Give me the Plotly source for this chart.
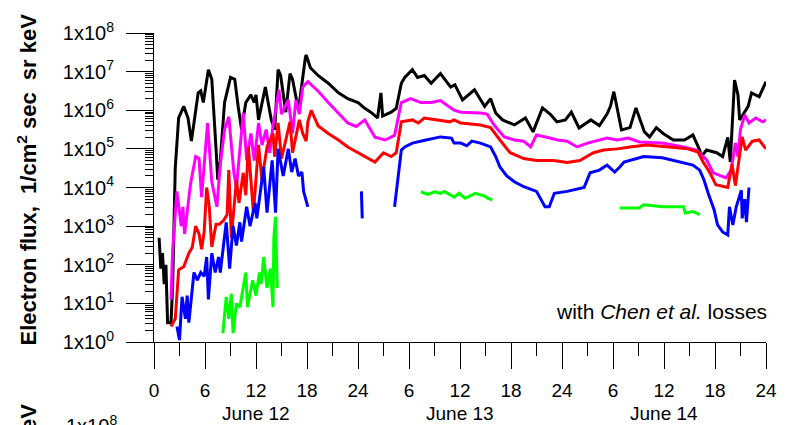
import plotly.graph_objects as go

# ---- data: time in hours from June 12 00:00 UT, flux as log10(1/cm^2 s sr keV) ----
black_t = [0.6, 0.8, 1.0, 1.2, 1.4, 1.6, 2.0, 2.2, 2.5, 2.9, 3.5, 4.0, 4.4, 5.2, 5.5, 5.8, 6.4, 6.8, 7.3, 7.5,
           7.8, 8.3, 9.0, 9.5, 9.9, 10.3, 10.8, 11.4, 11.8, 12.0, 12.3, 13.1, 13.8, 14.2, 14.6, 14.9, 15.5, 16.0,
           16.3, 17.0, 17.8, 17.9, 18.4, 19.3, 20.5, 21.7, 22.8, 24.0, 24.8, 25.5, 26.3, 26.7, 26.9, 27.9, 28.5,
           29.1, 29.5, 30.4, 31.0, 31.8, 32.6, 33.7, 34.9, 35.4, 36.3, 37.7, 38.9, 39.6, 40.2, 41.0, 42.4, 43.7,
           44.6, 45.7, 46.6, 47.4, 48.4, 49.1, 50.0, 51.4, 52.4, 53.3, 53.7, 54.1, 55.0, 56.0, 56.7, 57.7, 58.3,
           59.1, 59.9, 61.1, 62.4, 63.4, 64.2, 64.4, 65.0, 66.2, 66.9, 67.5, 67.8, 68.3, 68.7, 68.9, 69.2, 69.9,
           70.3, 71.2, 72.0]
black_log10 = [2.7, 1.9, 2.3, 1.5, 2.0, 0.5, 0.5, 1.5, 4.5, 5.8, 6.1, 5.8, 5.2, 6.45, 6.5, 6.2, 7.05, 6.8, 5.0, 4.2,
               4.7, 6.2, 6.85, 6.8, 6.1, 5.5, 6.2, 6.4, 6.2, 6.4, 5.75, 6.6, 5.75, 5.5, 7.05, 6.9, 5.95, 6.95,
               6.8, 6.0, 7.35, 7.43, 7.1, 6.9, 6.7, 6.45, 6.3, 6.2, 6.05, 5.95, 5.8, 6.45, 5.85, 5.95, 6.05,
               6.7, 6.85, 7.05, 6.85, 6.9, 6.7, 6.95, 6.6, 6.66, 6.27, 6.53, 6.1, 6.3, 5.93, 5.75, 5.62, 5.8,
               5.44, 6.06, 5.9, 5.7, 5.75, 5.95, 5.54, 5.75, 5.6, 5.9, 6.1, 6.48, 5.49, 5.55, 6.06, 5.44, 5.31,
               5.55, 5.4, 5.23, 5.23, 5.36, 4.97, 4.8, 4.97, 4.9, 4.8, 5.3, 4.66, 6.78, 6.4, 5.75, 5.85, 6.1,
               6.45, 6.35, 6.74]

magenta_t = [2.0, 2.2, 2.7, 3.2, 3.4, 3.6, 4.3, 4.9, 5.3, 5.6, 6.3, 6.8, 7.4, 7.8, 8.3, 8.8, 9.4, 9.7, 10.5,
             10.9, 11.4, 11.8, 12.3, 12.7, 13.2, 13.6, 14.0, 14.7, 15.0, 15.8, 16.3, 16.7, 17.1, 17.5, 18.1, 19.3,
             20.5, 21.7, 22.8, 23.8, 24.8, 26.0, 27.2, 28.3, 29.1, 30.2, 31.4, 32.6, 33.7, 35.3, 36.1, 38.4,
             39.2, 40.0, 41.2, 42.4, 43.5, 44.3, 45.0, 46.2, 47.5, 48.6, 49.8, 51.0, 52.5, 53.3, 54.5, 55.8,
             57.1, 59.8, 62.3, 63.8, 65.0, 65.8, 67.3, 67.9, 68.4, 68.7, 69.0, 69.5, 70.0, 70.8, 71.6, 72.0]
magenta_log10 = [1.1, 2.4, 3.9, 3.0, 3.5, 2.8, 4.1, 4.8, 4.75, 3.75, 5.67, 4.15, 3.5, 4.6, 5.5, 5.83, 4.38, 4.0,
                 5.93, 4.7, 5.4, 4.7, 5.67, 5.1, 5.5, 4.9, 5.6, 6.53, 5.9, 6.27, 5.4, 6.27, 5.9, 6.6, 6.74, 6.5,
                 6.2, 5.93, 5.67, 5.58, 5.75, 5.3, 5.23, 5.35, 6.2, 6.3, 6.2, 6.2, 6.25, 6.0, 5.95, 5.93,
                 5.9, 5.62, 5.31, 5.23, 5.2, 5.05, 5.36, 5.3, 5.23, 5.2, 5.05, 5.15, 5.23, 5.28, 5.23, 5.28,
                 5.18, 5.15, 5.05, 4.97, 4.72, 4.38, 4.25, 4.45, 5.15, 4.8, 5.5, 5.88, 5.67, 5.8, 5.7, 5.75]

red_t = [2.0, 2.5, 2.9, 3.5, 4.1, 4.5, 4.9, 5.3, 5.6, 5.9, 6.2, 6.5, 6.8, 7.3, 7.7, 8.2, 8.6, 8.8, 9.1, 9.7,
         10.0, 10.5, 10.8, 11.1, 11.7, 12.3, 12.7, 13.3, 14.0, 14.2, 14.6, 15.0, 16.0, 16.3, 17.1, 17.5, 17.9,
         18.1, 18.5, 19.3, 20.5, 21.7, 22.8, 24.0, 24.8, 26.0, 27.0, 27.9, 28.5, 29.1, 30.4, 31.1, 31.8, 33.3,
         34.8, 35.3, 36.1, 38.4, 39.6, 40.7, 41.9, 43.5, 45.0, 47.0, 48.6, 50.1, 51.7, 52.9, 54.5, 56.0, 57.9,
         60.6, 62.8, 64.0, 64.6, 65.4, 66.1, 67.5, 68.0, 68.4, 69.2, 69.6, 70.4, 71.2, 72.0]
red_log10 = [0.4, 0.6, 1.87, 1.95, 2.3, 2.45, 3.0, 2.8, 2.4, 2.85, 4.0, 3.5, 2.46, 3.05, 3.05, 3.15, 3.3, 4.45,
             2.7, 4.2, 3.6, 4.38, 3.8, 5.05, 3.34, 5.1, 4.2, 5.05, 5.4, 4.8, 5.67, 4.75, 5.7, 4.9, 5.75, 5.4,
             5.2, 5.7, 6.0, 5.6, 5.4, 5.23, 5.05, 4.9, 4.8, 4.66, 4.9, 4.8, 4.9, 5.7, 5.75, 5.67, 5.8, 5.75,
             5.7, 5.75, 5.67, 5.62, 5.55, 5.23, 4.9, 4.75, 4.7, 4.7, 4.65, 4.7, 4.9, 4.97, 5.0, 5.05, 5.1,
             5.05, 5.0, 4.92, 4.66, 4.38, 4.07, 4.0, 4.6, 4.05, 5.31, 4.97, 5.2, 5.23, 5.0]

blue_t = [2.7, 3.0, 3.3, 3.7, 3.9, 4.1, 4.7, 5.1, 5.5, 5.9, 6.2, 6.4, 6.8, 7.2, 7.6, 7.8, 8.5, 8.9, 9.3, 9.7,
          10.1, 10.3, 10.9, 11.3, 11.9, 12.1, 12.9, 13.3, 13.9, 14.3, 14.6, 15.2, 15.8, 16.2, 16.6, 17.0, 17.4,
          17.6, 18.1, None,
          24.4, 24.5, None,
          28.3, 28.6, 29.1, 29.5, 30.4, 32.0, 33.7, 35.0, 35.3, 36.1, 36.8, 37.4, 38.4, 39.6, 40.2, 40.7, 41.5,
          42.4, 43.5, 45.0, 45.8, 46.0, 46.5, 47.1, 48.6, 50.6, 51.3, 52.4, 53.3, 54.2, 54.8, 55.3, 57.1, 57.6,
          59.8, 61.8, 63.4, 64.2, 64.7, 65.2, 65.9, 66.3, 66.9, 67.5, 67.7, 68.1, 68.5, 69.1, 69.2, 69.5, 69.7,
          70.0]
blue_log10 = [0.4, 0.05, 1.17, 0.6, 1.2, 0.5, 1.8, 1.6, 1.8, 1.7, 2.2, 1.1, 2.3, 1.8, 2.2, 1.8, 3.1, 1.9, 3.0, 2.5,
              3.1, 2.6, 3.5, 3.0, 3.6, 3.2, 4.53, 3.35, 4.7, 3.35, 5.0, 4.3, 5.0, 4.4, 4.75, 4.3, 4.4,
              3.9, 3.5, None,
              3.9, 3.2, None,
              3.5, 4.0, 4.97, 5.05, 5.15, 5.23, 5.31, 5.28, 5.15, 5.15, 5.08, 5.2, 5.15, 5.05, 4.8, 4.53, 4.3,
              4.15, 4.02, 3.9, 3.6, 3.5, 3.5, 3.85, 3.9, 4.0, 4.38, 4.45, 4.58, 4.4, 4.53, 4.66, 4.77, 4.8,
              4.77, 4.66, 4.58, 4.45, 4.2, 3.85, 3.42, 3.03, 2.85, 2.77, 3.5, 3.03, 3.5, 3.93, 3.2, 3.7, 3.1,
              4.0]

green_t = [8.1, 8.5, 8.8, 9.1, 9.3, 9.7, 10.1, 10.8, 11.0, 11.6, 12.0, 12.4, 12.6, 12.9, 13.3, 13.7, 14.0, 14.1,
           14.3, 14.5, None,
           31.4, 32.2, 33.0, 33.7, 34.2, 35.3, 35.9, 36.6, 37.8, 38.9, 39.3, 39.8, None,
           54.8, 57.1, 57.6, 59.9, 62.3, 62.5, 63.4, 64.2]
green_log10 = [0.23, 1.17, 0.6, 1.25, 0.23, 1.0, 0.9, 1.8, 0.9, 1.6, 1.2, 1.8, 1.5, 2.2, 1.4, 1.9, 0.9, 2.7,
               3.24, 1.4, None,
               3.89, 3.82, 3.89, 3.85, 3.9, 3.75, 3.85, 3.72, 3.85, 3.78, 3.72, 3.68, None,
               3.47, 3.47, 3.55, 3.5, 3.5, 3.34, 3.38, 3.3]

x_tickvals = [0, 6, 12, 18, 24, 30, 36, 42, 48, 54, 60, 66, 72]
x_ticktext = ["0", "6", "12", "18", "24", "6", "12", "18", "24", "6", "12", "18", "24"]
day_labels = ["June 12", "June 13", "June 14"]
day_centers = [12, 36, 60]
y_exponents = [0, 1, 2, 3, 4, 5, 6, 7, 8]


def lin(vals):
    return [None if v is None else 10 ** v for v in vals]


fig = go.Figure()
series = [
    (black_t, black_log10, "#000000"),
    (magenta_t, magenta_log10, "#ff00ff"),
    (red_t, red_log10, "#ff0000"),
    (blue_t, blue_log10, "#0000ff"),
    (green_t, green_log10, "#00ff00"),
]
for t, v, c in series:
    fig.add_trace(go.Scatter(x=t, y=lin(v), mode="lines", line=dict(color=c, width=3),
                             connectgaps=False, showlegend=False, hoverinfo="skip"))

FONT = "Liberation Sans, Arial, sans-serif"

fig.update_layout(
    width=789, height=425,
    margin=dict(l=154, r=16, t=33, b=83),
    paper_bgcolor="white", plot_bgcolor="white",
    font=dict(family=FONT, color="black"),
    showlegend=False,
)
fig.update_xaxes(
    range=[0, 72], showgrid=False, zeroline=False,
    showline=True, linecolor="black", linewidth=1,
    tickmode="array", tickvals=x_tickvals, ticktext=x_ticktext,
    ticks="outside", ticklen=26, tickcolor="black", tickwidth=1,
    tickfont=dict(size=19, family=FONT), ticklabelstandoff=5,
    minor=dict(ticks="outside", dtick=3, tick0=0, ticklen=13, tickcolor="black", showgrid=False),
)
fig.update_yaxes(
    type="log", range=[0, 8], showgrid=False, zeroline=False,
    showline=True, linecolor="black", linewidth=1,
    tickmode="array", tickvals=[10 ** e for e in y_exponents],
    ticktext=["1x10<sup>%d</sup>" % e for e in y_exponents],
    ticks="outside", ticklen=27, tickcolor="black", tickwidth=1,
    tickfont=dict(size=20, family=FONT), ticklabelstandoff=8,
    minor=dict(ticks="outside", dtick="D1", ticklen=8, tickcolor="black", showgrid=False),
)

annotations = []
for lbl, c in zip(day_labels, day_centers):
    annotations.append(dict(text=lbl, x=c, xref="x", y=-0.23, yref="paper",
                            showarrow=False, font=dict(size=19, family=FONT),
                            xanchor="center", yanchor="middle"))
annotations.append(dict(text="with <i>Chen et al.</i> losses", x=1.005, xref="paper", y=0.10, yref="paper",
                        showarrow=False, font=dict(size=21, family=FONT), xanchor="right", yanchor="middle"))
ytitle = "<b>Electron flux,  1/cm<sup>2</sup> sec  sr keV</b>"
annotations.append(dict(text=ytitle, x=-0.207, xref="paper", y=0.527, yref="paper", textangle=-90,
                        showarrow=False, font=dict(size=22, family=FONT), xanchor="center", yanchor="middle"))
# fragments of the next panel visible at the bottom edge
annotations.append(dict(text=ytitle, x=-0.207, xref="paper", y=-0.735, yref="paper", textangle=-90,
                        showarrow=False, font=dict(size=22, family=FONT), xanchor="center", yanchor="middle"))
annotations.append(dict(text="1x10<sup>8</sup>", x=-0.058, xref="paper", y=-0.268, yref="paper",
                        showarrow=False, font=dict(size=20, family=FONT), xanchor="right", yanchor="middle"))
fig.update_layout(annotations=annotations)

fig.write_html("out.html")
